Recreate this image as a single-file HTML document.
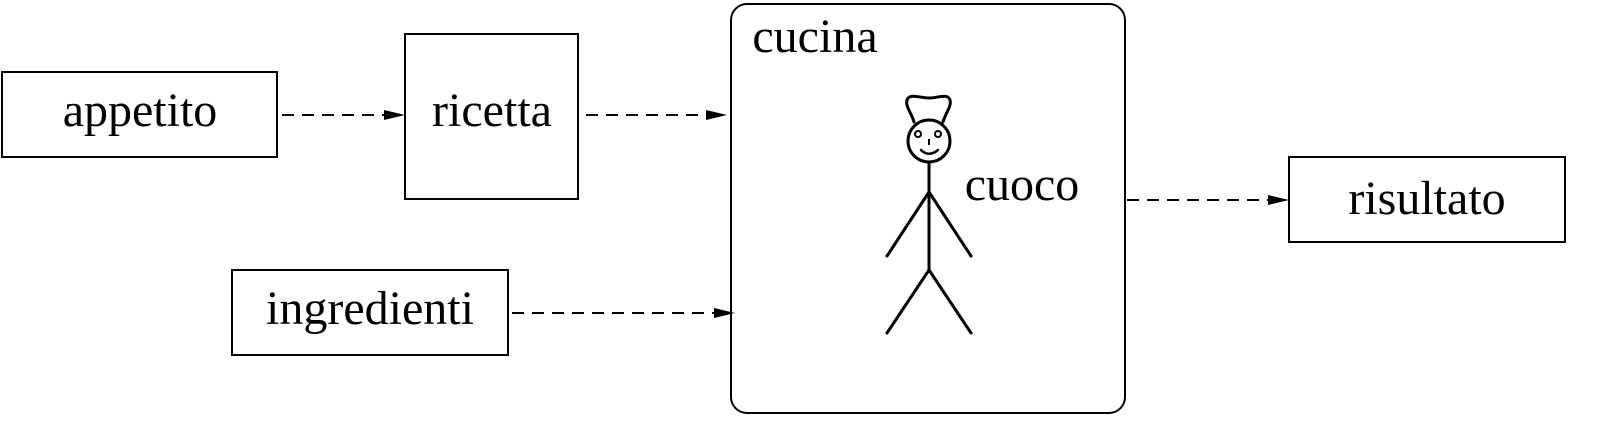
<!DOCTYPE html>
<html><head><meta charset="utf-8"><style>html,body{margin:0;padding:0;background:#fff}svg{display:block}</style></head>
<body>
<svg width="1615" height="430" viewBox="0 0 1615 430" xmlns="http://www.w3.org/2000/svg">
<g fill="none" stroke="#000" stroke-width="2">
<rect x="2" y="72" width="275" height="85"/>
<rect x="405" y="34" width="173" height="165"/>
<rect x="232" y="270" width="276" height="85"/>
<rect x="731" y="4" width="394" height="409" rx="16"/>
<rect x="1289" y="157" width="276" height="85"/>
</g>
<g stroke="#000" stroke-width="2" stroke-dasharray="12,8" fill="none">
<line x1="282" y1="115" x2="386" y2="115"/>
<line x1="586" y1="115" x2="708" y2="115"/>
<line x1="512" y1="313" x2="716" y2="313"/>
<line x1="1127" y1="200" x2="1270" y2="200"/>
</g>
<g fill="#000">
<path d="M384,110 L405,115 L384,120 Z"/>
<path d="M706,110 L727,115 L706,120 Z"/>
<path d="M714,308 L735,313 L714,318 Z"/>
<path d="M1268,195 L1289,200 L1268,205 Z"/>
</g>
<g font-family="Liberation Serif, serif" font-size="48" fill="#000" text-anchor="middle">
<text x="140" y="126">appetito</text>
<text x="492" y="126">ricetta</text>
<text x="370" y="324">ingredienti</text>
<text x="1427" y="214">risultato</text>
<text x="815" y="52">cucina</text>
<text x="1022" y="200">cuoco</text>
</g>
<g fill="none" stroke="#000" stroke-width="3" stroke-linecap="round">
<path d="M914,122 C912,114 905,106 907,100 C909,93 920,98 929,98 C938,98 948,93 950,100 C952,106 945,114 943,122"/>
<circle cx="929" cy="141" r="21"/>
<path d="M921,150 C926,155 932,155 938,150" stroke-width="2.5"/>
<line x1="929" y1="162" x2="929" y2="270"/>
<line x1="929" y1="192" x2="887" y2="256"/>
<line x1="929" y1="192" x2="971" y2="256"/>
<line x1="929" y1="270" x2="887" y2="333"/>
<line x1="929" y1="270" x2="971" y2="333"/>
</g>
<g fill="none" stroke="#000" stroke-width="2">
<circle cx="918" cy="134" r="3"/>
<circle cx="938" cy="134" r="3"/>
<line x1="929" y1="139" x2="929" y2="145"/>
</g>
</svg>
</body></html>
